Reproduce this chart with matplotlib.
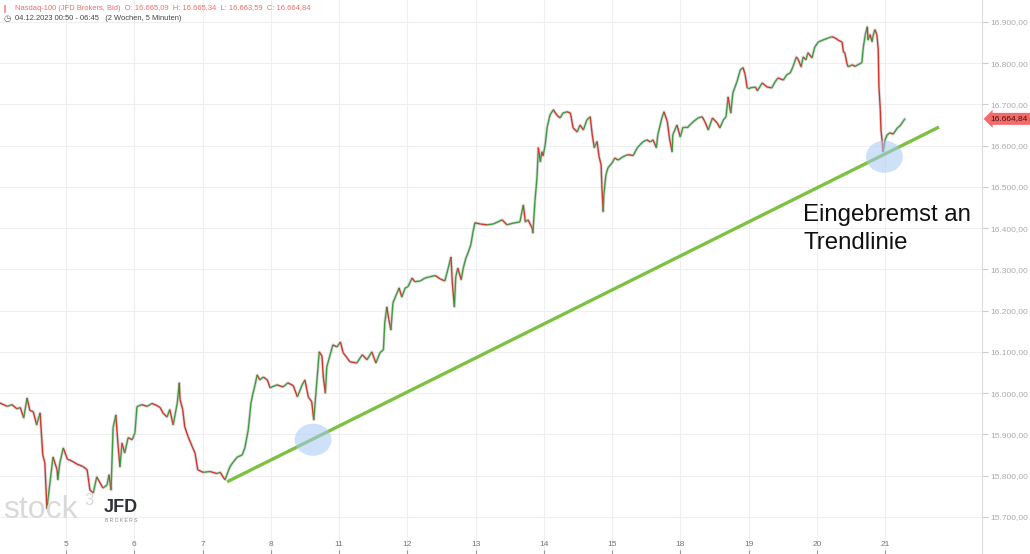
import numpy as np
import matplotlib.pyplot as plt
from matplotlib.collections import LineCollection
from matplotlib.patches import Ellipse
from matplotlib.ticker import FuncFormatter

plt.rcParams['font.family'] = ['Liberation Sans', 'DejaVu Sans']

# trading days on the x axis (0 = start of Dec 5)
day_labels = ['5', '6', '7', '8', '11', '12', '13', '14', '15', '18', '19', '20', '21']
price_ticks = list(range(15700, 16901, 100))

# Nasdaq-100, 5 min: time in trading days, price
t_days = [
    -0.97, -0.86, -0.79, -0.72, -0.67, -0.62, -0.57, -0.53, -0.48, -0.43,   # Dec 4
    -0.38, -0.34, -0.31, -0.28, -0.23, -0.19, -0.13, -0.12, -0.09, -0.04,
    0.02, 0.09, 0.16, 0.25, 0.31, 0.35, 0.40, 0.45, 0.50, 0.54,             # Dec 5
    0.60, 0.63, 0.66, 0.69, 0.73, 0.76, 0.79, 0.82, 0.86, 0.91, 0.97,
    1.01, 1.04, 1.11, 1.19, 1.26, 1.33, 1.38, 1.42, 1.48, 1.52,             # Dec 6
    1.57, 1.63, 1.66, 1.67, 1.71, 1.74, 1.79, 1.85, 1.89, 1.93,
    2.01, 2.11, 2.21, 2.26, 2.30, 2.33, 2.40, 2.45, 2.51, 2.58,             # Dec 7
    2.62, 2.67, 2.71, 2.74, 2.77, 2.80, 2.84, 2.89, 2.95, 2.99,
    3.09, 3.18, 3.25, 3.33, 3.39, 3.46, 3.50, 3.55, 3.60, 3.63,             # Dec 8
    3.68, 3.71, 3.75, 3.77, 3.80, 3.82, 3.87, 3.91, 3.97,
    4.02, 4.06, 4.12, 4.16, 4.26, 4.34, 4.41, 4.48, 4.54, 4.60,             # Dec 11
    4.65, 4.67, 4.70, 4.73, 4.76, 4.79, 4.85, 4.88, 4.92, 4.97,
    5.01, 5.07, 5.11, 5.19, 5.26, 5.33, 5.41, 5.48, 5.55, 5.60, 5.64,       # Dec 12
    5.66, 5.69, 5.71, 5.74, 5.79, 5.82, 5.86, 5.89, 5.93, 5.96, 5.99,
    6.07, 6.17, 6.26, 6.39, 6.46, 6.55, 6.65, 6.70, 6.73,                   # Dec 13
    6.77, 6.83, 6.84, 6.87, 6.90, 6.92, 6.95, 6.97, 6.99,
    7.02, 7.05, 7.09, 7.14, 7.19, 7.24, 7.28, 7.34, 7.39, 7.43, 7.49, 7.53,  # Dec 14
    7.58, 7.63, 7.68, 7.71, 7.74, 7.78, 7.81, 7.84, 7.85, 7.87, 7.88, 7.91, 7.94,
    8.00, 8.04, 8.09, 8.16, 8.23, 8.31, 8.37, 8.41, 8.45, 8.51,             # Dec 15
    8.56, 8.60, 8.65, 8.67, 8.73, 8.76, 8.81, 8.84, 8.88, 8.89,
    8.95, 9.00, 9.04, 9.11, 9.19, 9.26, 9.32, 9.36, 9.41, 9.47, 9.54,       # Dec 18
    9.58, 9.63, 9.67, 9.70, 9.74, 9.77, 9.83, 9.88, 9.92, 9.95,
    9.98, 10.02, 10.10, 10.13, 10.20, 10.27, 10.34, 10.39, 10.43, 10.51,    # Dec 19
    10.56, 10.61, 10.65, 10.70, 10.73, 10.77, 10.80, 10.84, 10.87, 10.93, 10.97,
    11.02, 11.09, 11.17, 11.22, 11.27, 11.31, 11.37, 11.39, 11.41, 11.44,   # Dec 20
    11.46, 11.52, 11.56, 11.60, 11.66, 11.68, 11.71, 11.74, 11.75, 11.78,
    11.81, 11.82, 11.85, 11.88, 11.90, 11.91, 11.93, 11.94, 11.96, 11.97,
    12.00, 12.03, 12.07, 12.12, 12.18, 12.22, 12.26, 12.29,                 # Dec 21
]
close = [
    15976, 15968, 15972, 15962, 15965, 15940, 15988, 15958, 15955, 15923,
    15952, 15850, 15831, 15720, 15790, 15845, 15814, 15790, 15831, 15867,
    15840, 15835, 15828, 15822, 15814, 15765, 15758, 15797, 15782, 15770,
    15777, 15802, 15765, 15916, 15947, 15879, 15821, 15879, 15855, 15892, 15887,
    15904, 15967, 15972, 15968, 15975, 15970, 15965, 15952, 15942, 15960,
    15923, 15976, 16025, 15985, 15960, 15918, 15894, 15870, 15855, 15814,
    15808, 15810, 15805, 15808, 15797, 15790, 15821, 15833, 15845, 15850,
    15867, 15911, 15976, 16000, 16020, 16044, 16032, 16039, 16032, 16013,
    16020, 16015, 16025, 16018, 15991, 16020, 16032, 15991, 15979, 15935,
    16039, 16100, 16090, 16039, 16000, 16063, 16093, 16117, 16112,
    16124, 16098, 16085, 16076, 16073, 16093, 16081, 16100, 16073, 16098,
    16105, 16170, 16209, 16178, 16153, 16219, 16243, 16255, 16233, 16255,
    16258, 16279, 16270, 16272, 16279, 16282, 16285, 16277, 16272, 16303, 16330,
    16267, 16209, 16282, 16303, 16275, 16303, 16328, 16340, 16359, 16388, 16413,
    16410, 16408, 16410, 16420, 16408, 16412, 16415, 16456, 16415,
    16420, 16400, 16388, 16464, 16522, 16595, 16561, 16585, 16575,
    16602, 16645, 16674, 16687, 16674, 16667, 16679, 16682, 16679, 16643, 16633, 16650,
    16638, 16662, 16670, 16626, 16595, 16610, 16573, 16553, 16505, 16440, 16481, 16529, 16546,
    16558, 16570, 16565, 16573, 16578, 16576, 16595, 16602, 16609, 16614,
    16609, 16614, 16595, 16626, 16667, 16682, 16658, 16619, 16585, 16626,
    16650, 16621, 16645, 16645, 16658, 16667, 16670, 16658, 16638, 16667, 16655,
    16643, 16662, 16670, 16718, 16679, 16728, 16755, 16784, 16789, 16772,
    16740, 16740, 16742, 16733, 16752, 16742, 16740, 16755, 16764, 16759,
    16772, 16776, 16791, 16815, 16808, 16791, 16815, 16808, 16825, 16813, 16839,
    16851, 16856, 16861, 16864, 16861, 16856, 16851, 16827, 16825, 16800,
    16791, 16796, 16792, 16796, 16801, 16837, 16869, 16888, 16856, 16869,
    16852, 16864, 16881, 16869, 16832, 16742, 16687, 16638, 16607, 16585,
    16614, 16626, 16631, 16628, 16643, 16648, 16658, 16664.84,
]

# trendline and the two touch points
trend_t = [2.36, 12.79]
trend_v = [15785, 16645]
touch_t = [3.62, 11.99]
touch_v = [15887, 16573]
last_price = 16664.84

t = np.array(t_days)
c = np.array(close)

fig = plt.figure(figsize=(10.3, 5.54), dpi=100)
ax = fig.add_axes([0, 0, 982 / 1030, 1])
ax.set_xlim(-0.967, 13.42)
ax.set_ylim(15610, 16953)

ax.grid(color='#efefef', lw=0.8)
ax.set_axisbelow(True)

# price path, red when falling, green when rising
ax.plot(t, c, color='#c4c4c4', lw=2.2, alpha=0.6, zorder=2)
pts = np.column_stack([t, c])
segs = np.stack([pts[:-1], pts[1:]], axis=1)
cols = np.where(np.diff(c) >= 0, '#3f9b3f', '#d2372d')
ax.add_collection(LineCollection(segs, colors=cols, lw=1.0, zorder=3))

ax.plot(trend_t, trend_v, color='#7cc142', lw=2.4, solid_capstyle='butt', zorder=4)
for tt, vv in zip(touch_t, touch_v):
    ax.add_patch(Ellipse((tt, vv), 0.54, 78, fc='#a9c9f4', ec='none', alpha=0.55, zorder=5))

ax.text(10.80, 16458, 'Eingebremst an\nTrendlinie', fontsize=17.3, color='#111111',
        va='top', ha='left', linespacing=1.35, zorder=6)

# axes
ax.set_xticks(range(len(day_labels)))
ax.set_xticklabels(day_labels)
ax.tick_params(axis='x', direction='in', length=3, pad=-9, labelsize=6,
               colors='#999999', labelcolor='#777777')
ax.set_yticks(price_ticks)
ax.yaxis.set_major_formatter(FuncFormatter(
    lambda v, p: f'{v:,.2f}'.replace(',', 'X').replace('.', ',').replace('X', '.')))
ax.yaxis.tick_right()
ax.tick_params(axis='y', length=4, pad=2, labelsize=6, colors='#cccccc', labelcolor='#aaaaaa')
for s in ['top', 'left', 'bottom']:
    ax.spines[s].set_visible(False)
ax.spines['right'].set_color('#dddddd')
ax.spines['right'].set_linewidth(0.8)

ax.annotate('16.664,84', xy=(1.0, last_price), xycoords=('axes fraction', 'data'),
            xytext=(6, 0), textcoords='offset points', fontsize=6, color='#4a0d0d',
            va='center', ha='left', annotation_clip=False,
            bbox=dict(boxstyle='larrow,pad=0.3', fc='#f26b6b', ec='none'))

# header
fig.text(15 / 1030, 1 - 8 / 554,
         'Nasdaq-100 (JFD Brokers, Bid)  O: 16.665,09  H: 16.665,34  L: 16.663,59  C: 16.664,84',
         fontsize=5.4, color='#f06a6a', va='center')
fig.text(3 / 1030, 1 - 8 / 554, '\u2225', fontsize=6, color='#f06a6a', va='center',
         family=['DejaVu Sans'])
fig.text(4 / 1030, 1 - 18 / 554, '\u25f7', fontsize=6, color='#555555', va='center',
         family=['DejaVu Sans'])
fig.text(15 / 1030, 1 - 18 / 554, '04.12.2023 00:50 - 06:45   (2 Wochen, 5 Minuten)',
         fontsize=5.4, color='#444444', va='center')

# watermark
fig.text(3 / 1030, 1 - 518 / 554, 'stock', fontsize=23, color='#d9d9d9', va='baseline')
fig.text(84 / 1030, 1 - 493 / 554, '3', fontsize=12, color='#d9d9d9', va='top')
fig.text(104 / 1030, 1 - 512 / 554, 'JFD', fontsize=13, color='#2c3038',
         fontweight='bold', va='baseline')
fig.text(105 / 1030, 1 - 520 / 554, 'B R O K E R S', fontsize=3.6, color='#8a8a8a', va='center')

fig.savefig('out.png', dpi=100)
